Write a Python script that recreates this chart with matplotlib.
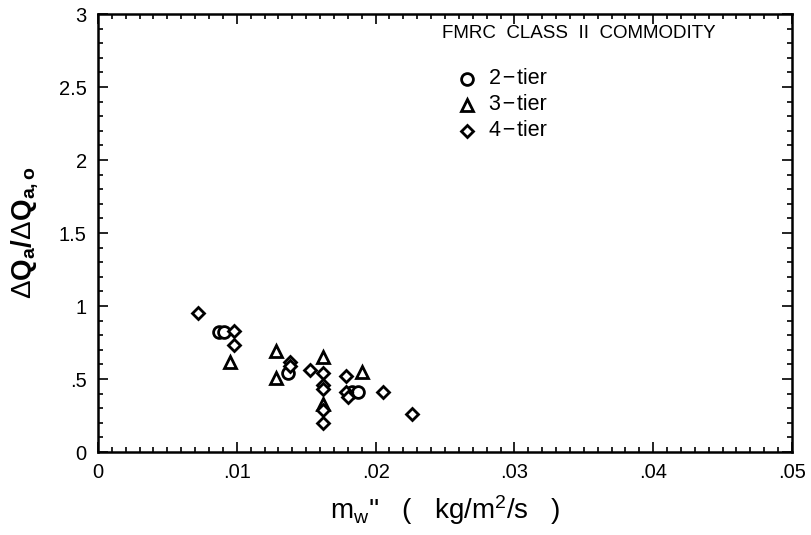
import matplotlib
matplotlib.use('Agg')
import matplotlib.pyplot as plt
from matplotlib.ticker import MultipleLocator, FixedLocator, FixedFormatter

plt.rcParams['font.family'] = ['Liberation Sans', 'DejaVu Sans']
plt.rcParams['mathtext.fontset'] = 'custom'
plt.rcParams['mathtext.rm'] = 'Liberation Sans'
plt.rcParams['mathtext.it'] = 'Liberation Sans'
plt.rcParams['mathtext.bf'] = 'Liberation Sans:bold'

# data
tier2_x = [0.0087, 0.0091, 0.0137, 0.0183, 0.0187]
tier2_y = [0.82, 0.82, 0.54, 0.41, 0.41]

tier3_x = [0.0095, 0.0128, 0.0128, 0.0162, 0.0162, 0.0190]
tier3_y = [0.62, 0.69, 0.51, 0.65, 0.33, 0.55]

tier4_x = [0.0072, 0.0098, 0.0098, 0.0138, 0.0138, 0.0153, 0.0162, 0.0162,
           0.0162, 0.0162, 0.0162, 0.0179, 0.0179, 0.0180, 0.0205, 0.0226]
tier4_y = [0.95, 0.83, 0.73, 0.62, 0.59, 0.56, 0.54, 0.46, 0.43, 0.29,
           0.20, 0.52, 0.41, 0.38, 0.41, 0.26]

xticks = [0, 0.01, 0.02, 0.03, 0.04, 0.05]
xticklabels = ['0', '.01', '.02', '.03', '.04', '.05']
yticks = [0, 0.5, 1, 1.5, 2, 2.5, 3]
yticklabels = ['0', '.5', '1', '1.5', '2', '2.5', '3']

fig = plt.figure(figsize=(8.11, 5.35), dpi=100)
ax = fig.add_axes([0.1208, 0.1551, 0.8558, 0.8187])

mk = dict(linestyle='none', markerfacecolor='white', markeredgecolor='black',
          markeredgewidth=2.0, clip_on=False)
ax.plot(tier2_x, tier2_y, marker='o', markersize=8.5, **mk)
ax.plot(tier3_x, tier3_y, marker='^', markersize=8.5, **mk)
ax.plot(tier4_x, tier4_y, marker='D', markersize=6.5, **mk)

ax.set_xlim(0, 0.05)
ax.set_ylim(0, 3)
ax.xaxis.set_major_locator(FixedLocator(xticks))
ax.xaxis.set_major_formatter(FixedFormatter(xticklabels))
ax.yaxis.set_major_locator(FixedLocator(yticks))
ax.yaxis.set_major_formatter(FixedFormatter(yticklabels))
ax.xaxis.set_minor_locator(MultipleLocator(0.001))
ax.yaxis.set_minor_locator(MultipleLocator(0.1))

ax.tick_params(which='both', direction='in', top=True, right=True, width=1.2)
ax.tick_params(which='major', length=7, labelsize=14.5)
ax.tick_params(axis='x', which='major', pad=8)
ax.tick_params(axis='y', which='major', pad=8)
ax.tick_params(which='minor', length=3.5)
for s in ax.spines.values():
    s.set_linewidth(1.8)

ax.set_xlabel(r"m$_{\mathrm{w}}$''   (   kg/m$^{2}$/s   )", fontsize=20, labelpad=8)
ax.set_ylabel(r'$\Delta$Q$_{\mathbf{a}}$/$\Delta$Q$_{\mathbf{a,o}}$', fontsize=20,
              fontweight='bold', labelpad=14)

# in-plot legend
ax.text(0.495, 0.955, 'FMRC  CLASS  II  COMMODITY', transform=ax.transAxes,
        fontsize=13.5, ha='left', va='center')
leg_items = [('o', 8.5, '2\u200a\u2212\u200atier'), ('^', 8.5, '3\u200a\u2212\u200atier'),
             ('D', 6.5, '4\u200a\u2212\u200atier')]
for i, (m, ms, lab) in enumerate(leg_items):
    yy = 0.852 - i * 0.059
    ax.plot([0.532], [yy], marker=m, markersize=ms, transform=ax.transAxes, **mk)
    ax.text(0.563, yy, lab, transform=ax.transAxes, fontsize=15.5, ha='left', va='center')

fig.savefig('out.png', dpi=100)
